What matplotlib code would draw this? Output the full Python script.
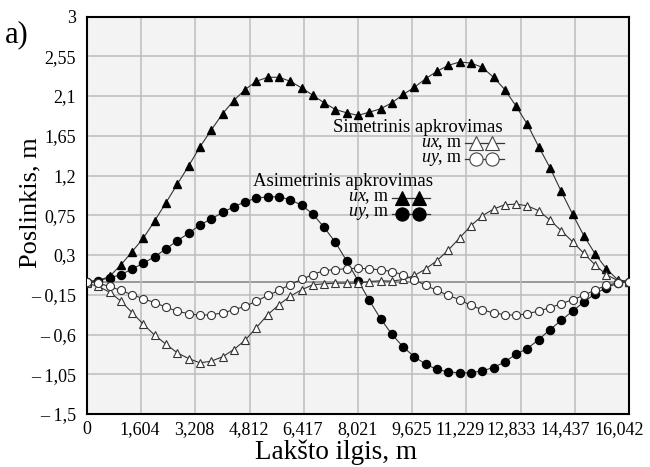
import numpy as np
import matplotlib
matplotlib.use("Agg")
import matplotlib.pyplot as plt
from matplotlib.lines import Line2D
from matplotlib.transforms import ScaledTranslation

plt.rcParams['font.family'] = ['Liberation Serif', 'DejaVu Serif']
plt.rcParams['mathtext.fontset'] = 'custom'
plt.rcParams['mathtext.rm'] = 'Liberation Serif'
plt.rcParams['mathtext.it'] = 'Liberation Serif:italic'

x_max = 16.042
n_points = 49
x = np.linspace(0, x_max, n_points)

x_ticks = [0, 1.604, 3.208, 4.812, 6.417, 8.021, 9.625, 11.229, 12.833, 14.437, 16.042]
x_tick_labels = ["0", "1,604", "3,208", "4,812", "6,417", "8,021", "9,625", "11,229",
                 "12,833", "14,437", "16,042"]
y_ticks = [3, 2.55, 2.1, 1.65, 1.2, 0.75, 0.3, -0.15, -0.6, -1.05, -1.5]
y_tick_labels = ["3", "2,55", "2,1", "1,65", "1,2", "0,75", "0,3", "– 0,15", "– 0,6",
                 "– 1,05", "– 1,5"]

# Asimetrinis apkrovimas
asym_ux = [0.0, 0.01, 0.057, 0.188, 0.339, 0.493, 0.688, 0.894, 1.102, 1.308,
           1.523, 1.714, 1.898, 2.049, 2.173, 2.267, 2.312, 2.312, 2.267, 2.192,
           2.109, 2.023, 1.947, 1.91, 1.88, 1.917, 1.955, 2.023, 2.117, 2.199,
           2.297, 2.380, 2.447, 2.485, 2.473, 2.425, 2.312, 2.173, 1.985, 1.779,
           1.526, 1.289, 1.019, 0.763, 0.519, 0.312, 0.143, 0.019, 0.0]
asym_uy = [0.0, 0.01, 0.042, 0.076, 0.143, 0.207, 0.282, 0.369, 0.463, 0.545,
           0.640, 0.707, 0.782, 0.846, 0.902, 0.944, 0.959, 0.959, 0.925, 0.865,
           0.763, 0.613, 0.443, 0.233, 0.011, -0.214, -0.421, -0.598, -0.741, -0.854,
           -0.936, -0.996, -1.023, -1.034, -1.034, -1.011, -0.974, -0.910, -0.823, -0.759,
           -0.658, -0.545, -0.440, -0.335, -0.233, -0.139, -0.071, -0.019, 0.0]

# Simetrinis apkrovimas
sym_ux = [-0.02, -0.056, -0.120, -0.222, -0.353, -0.485, -0.609, -0.710, -0.808, -0.872,
          -0.921, -0.902, -0.853, -0.770, -0.665, -0.522, -0.376, -0.263, -0.166, -0.094,
          -0.037, -0.026, -0.019, -0.019, -0.019, 0.0, 0.008, 0.004, 0.023, 0.068,
          0.143, 0.237, 0.357, 0.493, 0.632, 0.744, 0.820, 0.869, 0.876, 0.857,
          0.801, 0.696, 0.575, 0.451, 0.319, 0.188, 0.076, 0.011, 0.0]
sym_uy = [0.0, -0.019, -0.056, -0.101, -0.150, -0.195, -0.240, -0.290, -0.338, -0.364,
          -0.383, -0.375, -0.357, -0.319, -0.282, -0.222, -0.158, -0.101, -0.034, 0.023,
          0.079, 0.124, 0.135, 0.145, 0.15, 0.143, 0.132, 0.113, 0.076, 0.019,
          -0.045, -0.101, -0.158, -0.206, -0.271, -0.319, -0.357, -0.375, -0.383, -0.364,
          -0.335, -0.297, -0.252, -0.206, -0.158, -0.094, -0.045, -0.015, 0.0]

fig = plt.figure(figsize=(6.5, 4.67), dpi=100)
ax = fig.add_axes([87/650, 1 - 414/467, (629-87)/650, (414-16.5)/467])
ax.set_facecolor('#f3f3f3')

ax.set_xlim(0, x_max)
ax.set_ylim(-1.5, 3)
ax.set_xticks(x_ticks)
ax.set_xticklabels(x_tick_labels)
ax.set_yticks(y_ticks)
ax.set_yticklabels(y_tick_labels)
ax.tick_params(axis='x', length=0, labelsize=13, pad=5)
ax.tick_params(axis='y', length=0, labelsize=13, pad=8)
ax.grid(True, color='#bdbdbd', linewidth=1.1, zorder=0)
ax.axhline(0, color='#8a8a8a', linewidth=1.2, zorder=1)
for s in ax.spines.values():
    s.set_linewidth(1.5)
    s.set_color('black')

# slight leftward shift of crowded right-hand tick labels, as in the reference
shifts = [0, -2, -1, -1, -1, 0, -1, -6, -9, -10, -10]
for lab, dx in zip(ax.get_xticklabels(), shifts):
    lab.set_transform(lab.get_transform() + ScaledTranslation(dx / 100, 0, fig.dpi_scale_trans))

lw = 0.8
ms = 5.8
ax.plot(x, asym_ux, color='#333333', lw=lw, marker='^', ms=ms, mfc='black', mec='black', zorder=3)
ax.plot(x, asym_uy, color='#333333', lw=lw, marker='o', ms=ms, mfc='black', mec='black', zorder=3)
ax.plot(x, sym_ux, color='#333333', lw=lw, marker='^', ms=ms, mfc='white', mec='#333333', mew=0.8, zorder=3)
ax.plot(x, sym_uy, color='#333333', lw=lw, marker='o', ms=ms, mfc='white', mec='#333333', mew=0.8, zorder=3)

fs = 13.5
fig.text(418/650, 1 - 127/467, "Simetrinis apkrovimas", ha='center', va='center', fontsize=fs)
fig.text(343/650, 1 - 181/467, "Asimetrinis apkrovimas", ha='center', va='center', fontsize=fs)

def legend_row(tx, ty, label, x0, x1, mk, filled):
    fig.text(tx/650, 1 - ty/467, label, ha='right', va='center', fontsize=13)
    fx = [x0/650, x1/650]
    fy = [1 - ty/467, 1 - ty/467]
    fig.add_artist(Line2D(fx, fy, color='#333333', lw=0.9, transform=fig.transFigure))
    mx = [(x0 + (x1 - x0) * 0.27)/650, (x0 + (x1 - x0) * 0.7)/650]
    fig.add_artist(Line2D(mx, fy, linestyle='none', marker=mk, ms=9.5,
                          mfc='black' if filled else 'white',
                          mec='black' if filled else '#444444', mew=0.8,
                          transform=fig.transFigure))

legend_row(463, 143, r"$\mathit{ux}$, m", 465, 504, '^', False)
legend_row(463, 159, r"$\mathit{uy}$, m", 465, 504, 'o', False)
legend_row(390, 198, r"$\mathit{ux}$, m", 392, 430, '^', True)
legend_row(390, 214, r"$\mathit{uy}$, m", 392, 430, 'o', True)

fig.text(336/650, 1 - 452/467, "Lakšto ilgis, m", fontsize=19.5, ha='center', va='center')
fig.text(30/650, 1 - 203/467, "Poslinkis, m", fontsize=19, ha='center', va='center', rotation=90)
fig.text(5/650, 1 - 35/467, "a)", fontsize=22, ha='left', va='center')

fig.savefig("out.png", dpi=100)
